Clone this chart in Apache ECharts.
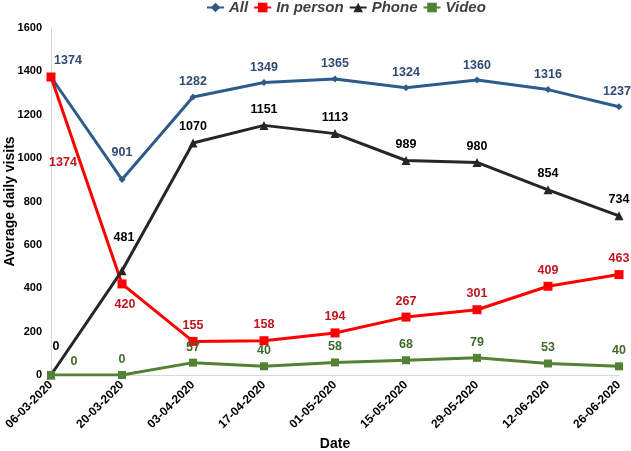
<!DOCTYPE html>
<html>
<head>
<meta charset="utf-8">
<script src="https://cdn.jsdelivr.net/npm/echarts@6/dist/echarts.min.js"></script>
<style>html,body{margin:0;padding:0;background:#fff}#c{width:631px;height:451px}</style>
</head>
<body>
<div id="c"></div>
<script>
const categories = ['06-03-2020','20-03-2020','03-04-2020','17-04-2020','01-05-2020','15-05-2020','29-05-2020','12-06-2020','26-06-2020'];
const allVisits = [1374, 901, 1282, 1349, 1365, 1324, 1360, 1316, 1237];
const inPerson = [1374, 420, 155, 158, 194, 267, 301, 409, 463];
const phone = [0, 481, 1070, 1151, 1113, 989, 980, 854, 734];
const video = [0, 0, 57, 40, 58, 68, 79, 53, 40];
const yTicks = [0, 200, 400, 600, 800, 1000, 1200, 1400, 1600];

const labelFont = "'Liberation Sans Narrow','Arial Narrow','Liberation Sans',Arial,sans-serif";
const axisFont = "'Liberation Sans',Arial,sans-serif";

function withOverrides(values, overrides) {
  return values.map((v, i) => overrides[i] ? { value: v, label: overrides[i] } : v);
}

const chart = echarts.init(document.getElementById('c'), null, { renderer: 'canvas' });

function mkSeries(name, data, color, labelColor, symbol, size, overrides) {
  return {
    name: name,
    type: 'line',
    data: withOverrides(data, overrides),
    symbol: symbol,
    symbolSize: size,
    showAllSymbol: true,
    lineStyle: { color: color, width: 3 },
    itemStyle: { color: color },
    label: {
      show: true,
      position: 'top',
      distance: 5,
      color: labelColor,
      fontFamily: labelFont,
      fontWeight: 'bold',
      fontSize: 12.5
    },
    emphasis: { disabled: true },
    animation: false
  };
}

chart.setOption({
  animation: false,
  grid: { left: 51, right: 12, top: 28, bottom: 76, containLabel: false, outerBoundsMode: 'none' },
  legend: {
    left: 201,
    top: -5,
    itemWidth: 17,
    itemHeight: 12,
    itemGap: 5,
    textStyle: { fontFamily: axisFont, fontWeight: 'bold', fontStyle: 'italic', fontSize: 15, color: '#404040' },
    data: ['All', 'In person', 'Phone', 'Video']
  },
  xAxis: {
    type: 'category',
    data: categories,
    boundaryGap: false,
    name: 'Date',
    nameLocation: 'middle',
    nameGap: 62,
    nameMoveOverlap: false,
    nameTextStyle: { fontFamily: axisFont, fontWeight: 'bold', fontSize: 14, color: '#000' },
    axisLine: { show: true, lineStyle: { color: '#d9d9d9', width: 1 } },
    axisTick: { show: false },
    splitLine: { show: false },
    axisLabel: { rotate: 45, margin: 8, interval: 0, fontFamily: axisFont, fontWeight: 'bold', fontSize: 12, color: '#000' }
  },
  yAxis: {
    type: 'value',
    min: yTicks[0],
    max: yTicks[yTicks.length - 1],
    interval: yTicks[1] - yTicks[0],
    name: 'Average daily visits',
    nameLocation: 'middle',
    nameGap: 34,
    nameMoveOverlap: false,
    nameTextStyle: { fontFamily: axisFont, fontWeight: 'bold', fontSize: 14, color: '#000' },
    axisLine: { show: true, lineStyle: { color: '#d9d9d9', width: 1 } },
    axisTick: { show: false },
    splitLine: { show: false },
    axisLabel: { margin: 9, fontFamily: axisFont, fontWeight: 'bold', fontSize: 11, color: '#000', formatter: v => String(v) }
  },
  series: [
    mkSeries('All', allVisits, '#2E5C8A', '#2F4A73', 'diamond', 7, {
      0: { offset: [17, -1] },
      1: { offset: [0, -12] },
      8: { offset: [-2, 0] }
    }),
    mkSeries('In person', inPerson, '#FF0000', '#C0141C', 'rect', 9, {
      0: { position: 'inside', offset: [12, 86] },
      1: { position: 'bottom', offset: [3, 5] }
    }),
    mkSeries('Phone', phone, '#262626', '#000000', 'triangle', 9, {
      0: { offset: [5, -12] },
      1: { offset: [2, -17] }
    }),
    mkSeries('Video', video, '#548235', '#3F6B2B', 'rect', 8, {
      0: { offset: [23, 2] }
    })
  ]
});
</script>
</body>
</html>
